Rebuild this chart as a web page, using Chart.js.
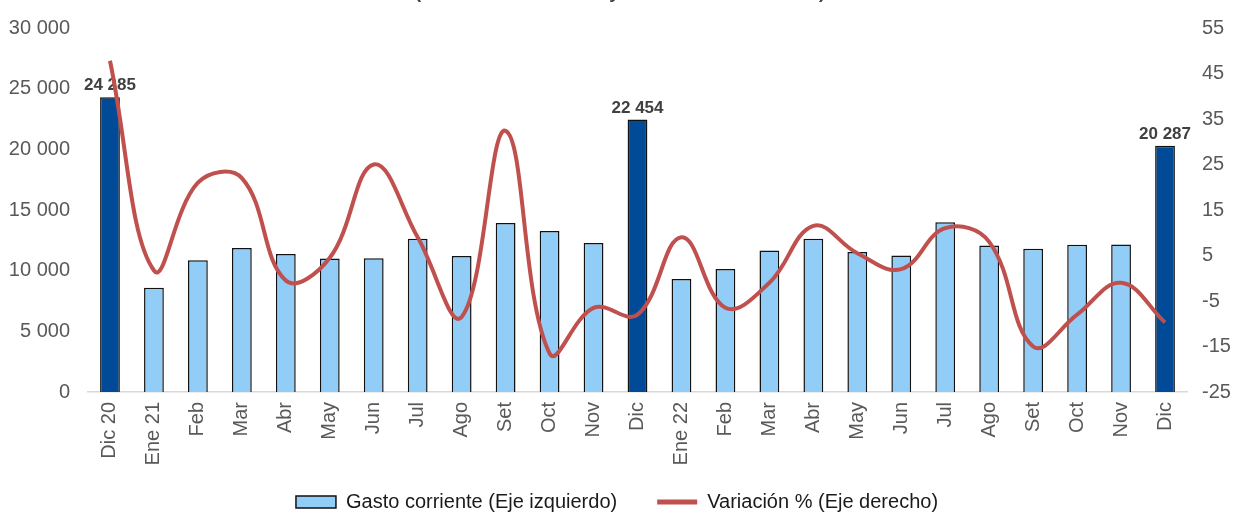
<!DOCTYPE html>
<html lang="es">
<head>
<meta charset="UTF-8" />
<title>Gasto corriente</title>
<script src="https://cdn.jsdelivr.net/npm/chart.js"></script>
<style>
  html, body { margin: 0; padding: 0; background: #ffffff; }
  #wrap { width: 1234px; height: 514px; }
</style>
</head>
<body>
<div id="wrap"><canvas id="chart" width="1234" height="514"></canvas></div>
<script>
  const months = ["Dic 20", "Ene 21", "Feb", "Mar", "Abr", "May", "Jun", "Jul", "Ago", "Set", "Oct", "Nov",
    "Dic", "Ene 22", "Feb", "Mar", "Abr", "May", "Jun", "Jul", "Ago", "Set", "Oct", "Nov", "Dic"];
  // millones de soles (eje izquierdo)
  const gasto = [24285, 8600, 10850, 11860, 11370, 11010, 11030, 12630, 11200, 13920, 13260, 12270,
    22454, 9310, 10130, 11670, 12630, 11530, 11260, 14000, 12080, 11810, 12140, 12160, 20287];
  // variación % real (eje derecho)
  const variacion = [47.8, 1.7, 21, 22, -0.5, 4.5, 25, 9, -8.5, 32.4, -16.5, -6.5,
    -8, 9, -6.5, -1, 11.5, 5.5, 2, 11, 8, -15, -8, -1, -9.7];
  const leftTicks = [0, 5000, 10000, 15000, 20000, 25000, 30000];
  const rightTicks = [-25, -15, -5, 5, 15, 25, 35, 45, 55];

  const light = "#92CDF8";
  const dark = "#004A97";
  const red = "#C0504D";
  const tickColor = "#595959";
  const font = "'Liberation Sans', Arial, sans-serif";

  // diciembre de cada año va resaltado y con su valor
  const isDic = months.map((m) => m.startsWith("Dic"));
  const barColors = isDic.map((d) => (d ? dark : light));

  const fmt = (v) => String(v).replace(/\B(?=(\d{3})+(?!\d))/g, " ");

  const barLabels = {
    id: "barLabels",
    afterDatasetDraw(chart, args) {
      if (args.index !== 0) return;
      const ctx = chart.ctx;
      ctx.save();
      ctx.font = "bold 17px " + font;
      ctx.fillStyle = "#404040";
      ctx.textAlign = "center";
      ctx.textBaseline = "alphabetic";
      args.meta.data.forEach((bar, i) => {
        if (!isDic[i]) return;
        ctx.fillText(fmt(gasto[i]), bar.x, bar.y - 7);
      });
      ctx.restore();
    },
  };

  // título recortado en la parte superior de la imagen original
  const clippedTitle = {
    id: "clippedTitle",
    afterDraw(chart) {
      const ctx = chart.ctx;
      ctx.save();
      ctx.font = "bold 18.5px " + font;
      ctx.fillStyle = "#404040";
      ctx.textAlign = "center";
      ctx.textBaseline = "alphabetic";
      ctx.fillText("(En millones de soles y variación % real anual)", 620, -2);
      ctx.restore();
    },
  };

  new Chart(document.getElementById("chart"), {
    data: {
      labels: months,
      datasets: [
        {
          type: "bar",
          label: "Gasto corriente (Eje izquierdo)",
          data: gasto,
          yAxisID: "y",
          backgroundColor: barColors,
          borderColor: "#111111",
          borderWidth: 1.5,
          barPercentage: 0.45,
          categoryPercentage: 1,
          order: 1,
        },
        {
          type: "line",
          label: "Variación % (Eje derecho)",
          data: variacion,
          yAxisID: "y1",
          borderColor: red,
          backgroundColor: red,
          borderWidth: 4,
          pointRadius: 0,
          tension: 0.4,
          order: 0,
        },
      ],
    },
    options: {
      responsive: false,
      animation: false,
      layout: { padding: { top: 28, left: 0, right: 0, bottom: -8 } },
      scales: {
        x: {
          grid: { display: false },
          border: { display: true, color: "#d9d9d9", width: 1.5 },
          ticks: {
            color: tickColor,
            font: { family: font, size: 20 },
            minRotation: 90,
            maxRotation: 90,
            autoSkip: false,
            padding: 2,
          },
          afterFit: (s) => { s.height = 80; },
        },
        y: {
          position: "left",
          min: 0,
          max: 30000,
          grid: { display: false },
          border: { display: false },
          afterBuildTicks: (s) => { s.ticks = leftTicks.map((v) => ({ value: v })); },
          ticks: {
            color: tickColor,
            font: { family: font, size: 20 },
            padding: 10,
            callback: (v) => fmt(v),
          },
          afterFit: (s) => { s.width = 88; },
        },
        y1: {
          position: "right",
          min: -25,
          max: 55,
          grid: { display: false },
          border: { display: false },
          afterBuildTicks: (s) => { s.ticks = rightTicks.map((v) => ({ value: v })); },
          ticks: {
            color: tickColor,
            font: { family: font, size: 20 },
            padding: 7,
          },
          afterFit: (s) => { s.width = 47; },
        },
      },
      plugins: {
        tooltip: { enabled: false },
        legend: {
          position: "bottom",
          labels: {
            color: "#1a1a1a",
            font: { family: font, size: 20 },
            usePointStyle: true,
            pointStyleWidth: 40,
            boxHeight: 12,
            padding: 20,
            generateLabels(chart) {
              const items = Chart.defaults.plugins.legend.labels.generateLabels(chart);
              items.sort((a, b) => a.datasetIndex - b.datasetIndex);
              items.forEach((it) => {
                if (it.datasetIndex === 0) {
                  it.fillStyle = light;
                  it.strokeStyle = "#111111";
                  it.lineWidth = 1.5;
                  it.pointStyle = "rect";
                  it.text = it.text + "\u2003"; // un poco más de aire entre las dos entradas
                } else {
                  it.pointStyle = "line";
                  it.strokeStyle = red;
                  it.lineWidth = 5;
                }
              });
              return items;
            },
          },
        },
      },
    },
    plugins: [barLabels, clippedTitle],
  });
</script>
</body>
</html>
